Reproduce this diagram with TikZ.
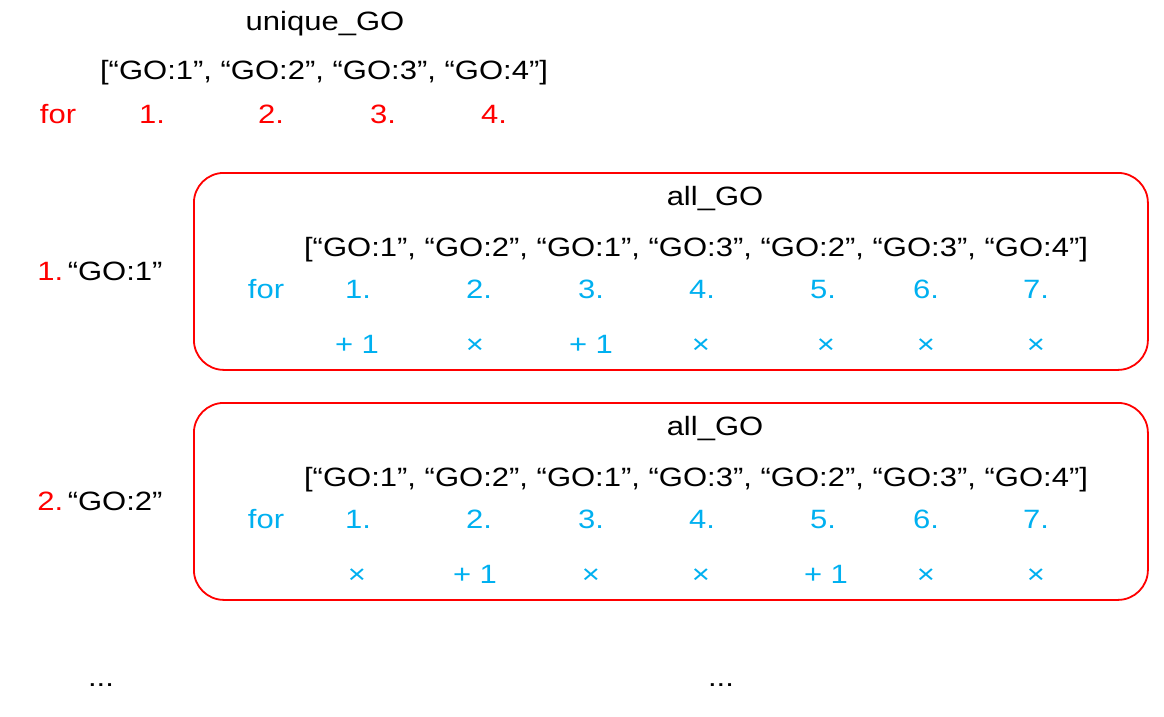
\documentclass[tikz,border=0pt]{standalone}
\usepackage{fontspec}
\setmainfont[FakeStretch=1.17]{Liberation Sans}
\definecolor{gored}{HTML}{FF0000}
\definecolor{goblue}{HTML}{00B0F0}
\begin{document}
\begin{tikzpicture}[x=1pt,y=-1pt,
	every node/.style={font=\fontsize{26.5}{30}\selectfont, inner sep=0pt, anchor=base},
	redtxt/.style={text=gored},
	bluetxt/.style={text=goblue},
	gobox/.style={draw=gored, line width=1.8pt, rounded corners=30pt, minimum width=954pt, minimum height=197pt, anchor=north west}]
		
		\useasboundingbox (0,0) rectangle (1164,716);
		
		% unique_GO
		\node (utitle) at (325,30) {unique\_GO};
		\node (ulist) at (324,79) {[“GO:1”, “GO:2”, “GO:3”, “GO:4”]};
		\node[redtxt] (ufor) at (58,123) {for};
		\node[redtxt] (u1) at (152,123) {1.};
		\node[redtxt] (u2) at (271,123) {2.};
		\node[redtxt] (u3) at (383,123) {3.};
		\node[redtxt] (u4) at (494,123) {4.};
		
		% erster Durchlauf
		\node (lab1) at (100,280) {\textcolor{gored}{1.}\,“GO:1”};
		\node[gobox] (box1) at (193,172) {};
		\node (atitle1) at (715,205) {all\_GO};
		\node (alist1) at (696,256) {[“GO:1”, “GO:2”, “GO:1”, “GO:3”, “GO:2”, “GO:3”, “GO:4”]};
		\node[bluetxt] (afor1) at (266,298) {for};
		\node[bluetxt] (a11) at (358,298) {1.};
		\node[bluetxt] (a12) at (479,298) {2.};
		\node[bluetxt] (a13) at (591,298) {3.};
		\node[bluetxt] (a14) at (702,298) {4.};
		\node[bluetxt] (a15) at (823,298) {5.};
		\node[bluetxt] (a16) at (926,298) {6.};
		\node[bluetxt] (a17) at (1036,298) {7.};
		\node[bluetxt] (r11) at (357,353) {+ 1};
		\node[bluetxt] (r12) at (475,353) {×};
		\node[bluetxt] (r13) at (591,353) {+ 1};
		\node[bluetxt] (r14) at (701,353) {×};
		\node[bluetxt] (r15) at (826,353) {×};
		\node[bluetxt] (r16) at (926,353) {×};
		\node[bluetxt] (r17) at (1036,353) {×};
		
		% zweiter Durchlauf
		\node (lab2) at (100,510) {\textcolor{gored}{2.}\,“GO:2”};
		\node[gobox] (box2) at (193,402) {};
		\node (atitle2) at (715,435) {all\_GO};
		\node (alist2) at (696,486) {[“GO:1”, “GO:2”, “GO:1”, “GO:3”, “GO:2”, “GO:3”, “GO:4”]};
		\node[bluetxt] (afor2) at (266,528) {for};
		\node[bluetxt] (a21) at (358,528) {1.};
		\node[bluetxt] (a22) at (479,528) {2.};
		\node[bluetxt] (a23) at (591,528) {3.};
		\node[bluetxt] (a24) at (702,528) {4.};
		\node[bluetxt] (a25) at (823,528) {5.};
		\node[bluetxt] (a26) at (926,528) {6.};
		\node[bluetxt] (a27) at (1036,528) {7.};
		\node[bluetxt] (r21) at (357,583) {×};
		\node[bluetxt] (r22) at (475,583) {+ 1};
		\node[bluetxt] (r23) at (591,583) {×};
		\node[bluetxt] (r24) at (701,583) {×};
		\node[bluetxt] (r25) at (826,583) {+ 1};
		\node[bluetxt] (r26) at (926,583) {×};
		\node[bluetxt] (r27) at (1036,583) {×};
		
		% usw.
		\node (dots1) at (101,686) {...};
		\node (dots2) at (721,686) {...};
		
	\end{tikzpicture}
\end{document}
